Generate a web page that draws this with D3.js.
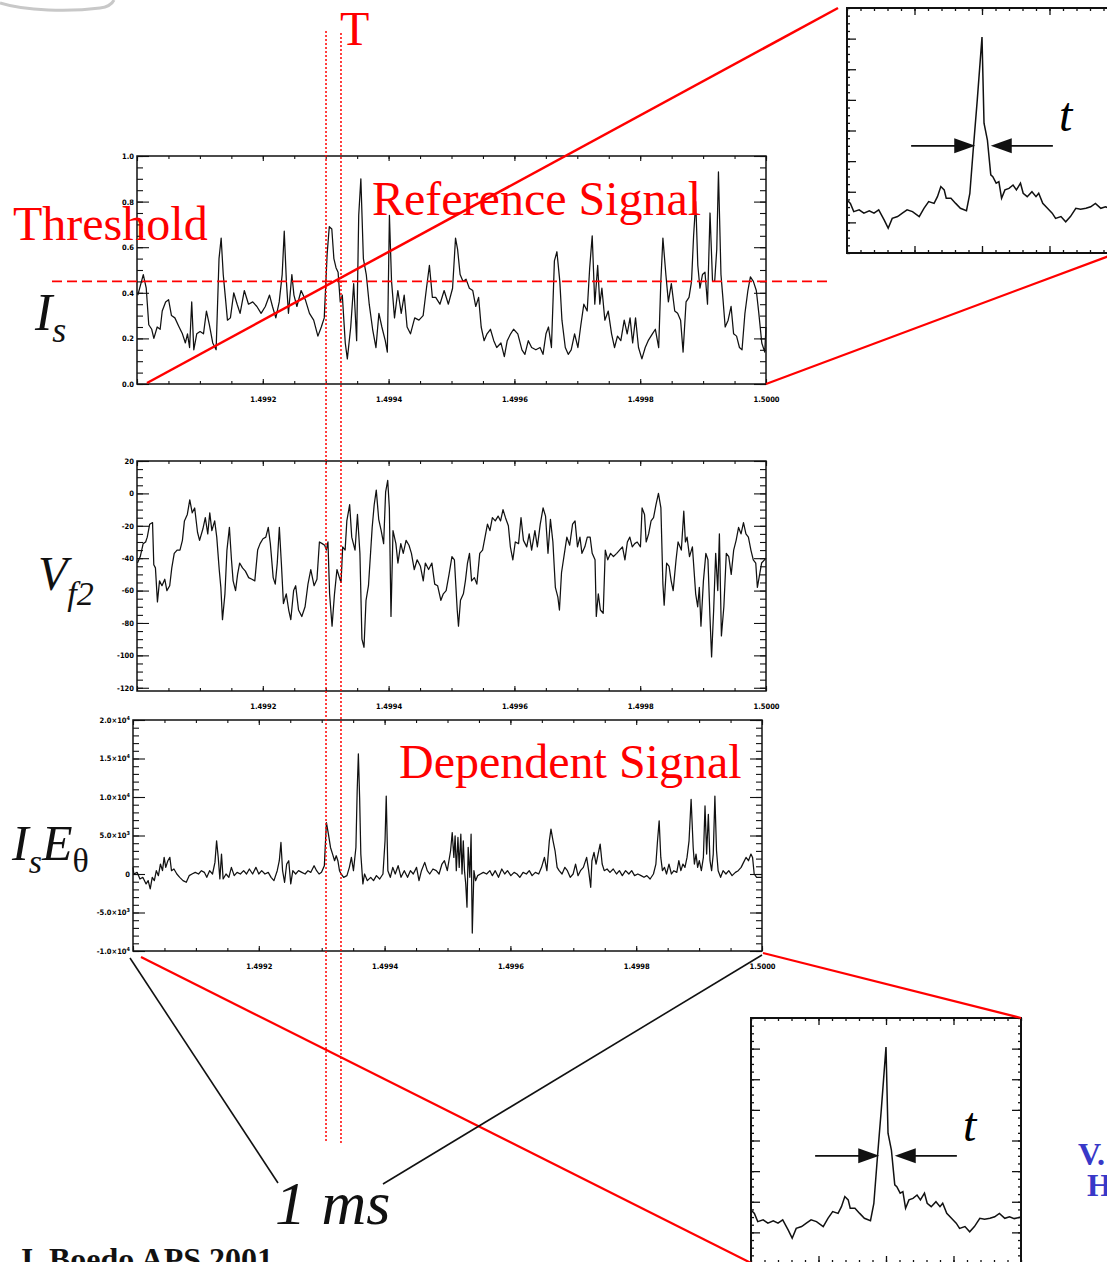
<!DOCTYPE html>
<html>
<head>
<meta charset="utf-8">
<script src="https://cdn.jsdelivr.net/npm/d3@7"></script>
<style>
body { margin: 0; background: #fff; }
svg { display: block; }
</style>
</head>
<body>
<script>

// time in microseconds after t0, value
var t0 = 1.4990;

var isSignal = [
 [1.3,.39],[10,.48],[14.7,.42],[18.7,.26],[23.4,.24],[26.8,.20],[32.1,.25],[36.8,.24],[40.1,.32],[45.5,.36],
 [50.2,.37],[54.8,.30],[60.2,.29],[66.9,.25],[72.2,.22],[76.9,.18],[80.3,.22],[83.6,.16],[87,.36],[90.3,.15],
 [95,.22],[100.3,.23],[105.7,.22],[110.4,.32],[115,.26],[120.4,.18],[125.8,.15],[130.4,.55],[133.8,.64],[137.1,.48],
 [140.5,.38],[143.8,.28],[148.5,.29],[153.8,.40],[159.2,.35],[163.9,.31],[170.6,.41],[177.3,.35],[184,.36],[190.6,.34],
 [197.3,.31],[204,.34],[210.7,.39],[215.4,.34],[220.7,.29],[226.1,.36],[230.8,.48],[234.1,.67],[237.5,.45],[240.8,.31],
 [246.2,.48],[249.5,.39],[254.2,.34],[260.9,.41],[267.6,.37],[274.2,.31],[280.9,.28],[287.6,.21],[293,.25],[297.7,.29],
 [302.3,.57],[305.7,.69],[309.7,.68],[313,.55],[316.4,.51],[319.7,.49],[323.1,.36],[326.4,.39],[331.1,.18],[334.4,.11],
 [339.8,.25],[344.5,.44],[349.2,.19],[352.5,.74],[355.9,.90],[359.9,.55],[364.5,.48],[369.2,.35],[374.6,.24],[379.9,.16],
 [384.6,.31],[389.3,.25],[394.7,.19],[398,.14],[401.3,.74],[404.7,.45],[409.4,.29],[414.7,.41],[420.1,.31],[424.8,.39],
 [429.4,.25],[434.8,.22],[441.5,.29],[448.2,.28],[454.9,.30],[460.2,.42],[464.9,.52],[469.6,.38],[474.9,.38],[481.6,.35],
 [488.3,.41],[495,.35],[501.7,.42],[506.4,.64],[509.7,.59],[513.7,.48],[518.4,.45],[523.1,.46],[528.4,.42],[533.8,.41],
 [538.5,.34],[543.1,.38],[547.2,.25],[551.8,.19],[556.5,.22],[561.9,.24],[567.2,.19],[571.9,.16],[578.6,.18],[584,.12],
 [588.6,.19],[594,.22],[598.7,.24],[605.4,.22],[612,.15],[616.7,.13],[622.1,.19],[627.4,.16],[634.1,.15],[640.8,.16],
 [645.5,.13],[650.2,.22],[654.2,.25],[658.9,.16],[663.6,.54],[667.6,.58],[672.2,.45],[675.6,.28],[680.9,.16],[685.6,.13],
 [690.3,.15],[695.7,.22],[701,.16],[705.7,.26],[710.4,.35],[715.7,.32],[719.7,.51],[723.7,.65],[727.8,.35],[732.4,.52],
 [735.8,.35],[739.1,.42],[743.8,.28],[749.2,.32],[754.5,.22],[759.2,.16],[763.9,.21],[769.2,.19],[774.6,.28],[779.3,.22],
 [783.9,.29],[788,.18],[792.6,.29],[797.3,.16],[802.7,.11],[808,.16],[812.7,.19],[819.4,.22],[824.1,.24],[829.4,.16],
 [832.8,.45],[836.1,.64],[840.8,.48],[844.8,.36],[849.5,.44],[854.9,.32],[859.5,.31],[864.2,.28],[868.2,.14],[872.9,.36],
 [877.6,.38],[881.6,.45],[884.9,.65],[888.3,.80],[891.6,.52],[895,.42],[899,.48],[903,.49],[907,.35],[911,.75],
 [915,.45],[918.4,.45],[921.7,.59],[924.4,.93],[928.4,.48],[931.1,.39],[935.1,.25],[939.8,.28],[944.5,.34],[948.5,.22],
 [953.2,.21],[957.8,.16],[961.9,.15],[966.5,.31],[971.2,.41],[975.2,.47],[979.9,.45],[984.6,.41],[988.6,.31],[993.3,.18],
 [998,.14],[1000,.25]
];

var vfSignal = [
 [0.7,-43],[5.2,-39],[9.8,-31],[13.7,-30],[16.3,-27],[20.2,-19],[24.7,-18],[26.7,-44],[29.3,-46],[32.5,-67],
 [35.8,-54],[39.7,-57],[44.2,-53],[47.5,-60],[52,-57],[55.3,-46],[59.2,-37],[63.7,-35],[68.3,-35],[72.2,-29],
 [75.4,-17],[80,-13],[83.9,-4],[87.8,-12],[91.7,-9],[96.2,-24],[99.5,-29],[104.7,-22],[108.6,-15],[112.5,-25],
 [115.7,-12],[119,-23],[123.5,-17],[126.8,-27],[130.7,-47],[133.3,-58],[135.9,-78],[139.8,-62],[143,-35],[146.9,-21],
 [150.2,-41],[152.8,-54],[156.7,-60],[159.9,-50],[163.2,-43],[167.7,-46],[172.3,-48],[177.5,-52],[182.7,-53],[187.3,-54],
 [191.8,-35],[195.7,-31],[200.3,-28],[204.8,-27],[208.7,-21],[212,-31],[216.5,-52],[219.8,-56],[223,-43],[226.3,-21],
 [229.5,-43],[232.8,-68],[237.3,-62],[241.2,-72],[244.5,-78],[249,-60],[252.3,-57],[256.8,-72],[262,-76],[267.2,-70],
 [271.8,-56],[276.3,-47],[281.5,-57],[286.1,-53],[290,-30],[294.5,-31],[298.4,-32],[301,-35],[303.6,-30],[306.2,-62],
 [310.1,-82],[314,-62],[317.9,-47],[321.8,-52],[324.4,-55],[327,-33],[330.9,-35],[333.6,-17],[338.1,-7],[341.4,-27],
 [346.6,-35],[350.5,-13],[354.4,-37],[357.6,-90],[360.9,-95],[364.1,-66],[368,-57],[371.3,-37],[373.9,-21],[377.1,-7],
 [380.4,2],[384.3,-16],[388.2,-23],[392.1,-31],[395.3,1],[398.6,8],[401.2,-9],[403.8,-76],[407,-23],[411.6,-31],
 [414.8,-43],[419.4,-31],[423.3,-37],[427.8,-29],[432.4,-32],[436.3,-37],[440.8,-47],[445.4,-41],[450.6,-45],[455.1,-54],
 [458.4,-43],[463.6,-47],[468.8,-43],[473.3,-56],[477.9,-57],[483.1,-66],[487,-62],[491.5,-60],[496.1,-50],[500.7,-39],
 [504.6,-41],[509.1,-72],[511.1,-82],[514.3,-66],[518.9,-62],[522.1,-54],[525.4,-43],[528.6,-37],[531.9,-54],[536.4,-52],
 [540.3,-56],[544.9,-37],[549.4,-35],[553.3,-27],[557.2,-19],[561.1,-23],[565,-15],[569.6,-17],[574.1,-14],[578,-17],
 [581.9,-10],[585.8,-15],[590.4,-20],[593.6,-33],[597.5,-41],[601.4,-30],[606.6,-31],[610.5,-15],[614.4,-29],[619.6,-33],
 [623.5,-25],[627.4,-35],[632.6,-23],[636.5,-33],[641.1,-19],[645.6,-9],[649.5,-14],[653.4,-37],[657.3,-16],[661.2,-30],
 [665.1,-58],[669.1,-64],[671.6,-72],[674.9,-49],[679.5,-37],[683.4,-27],[687.9,-32],[692.5,-19],[696.4,-17],[700.3,-33],
 [704.2,-27],[707.4,-37],[712,-33],[715.9,-27],[720.4,-27],[723.7,-37],[728.2,-41],[730.2,-76],[733.4,-62],[736.7,-72],
 [741.2,-74],[744.5,-35],[748.4,-41],[752.9,-37],[757.5,-39],[762.7,-37],[767.2,-35],[771.8,-33],[775.7,-41],[779.6,-30],
 [783.5,-27],[787.4,-33],[791.3,-31],[795.2,-30],[800.4,-33],[803,-9],[806.9,-13],[809.5,-30],[813.4,-25],[817.3,-17],
 [821.2,-15],[825.1,-7],[829,0],[832.9,-9],[836.1,-56],[838.1,-69],[842,-43],[845.9,-45],[849.2,-54],[852.4,-60],
 [857,-41],[860.2,-30],[865.4,-35],[869.3,-11],[871.9,-30],[874.5,-27],[878.4,-39],[883,-33],[888.2,-62],[891.4,-70],
 [894,-58],[896.6,-82],[900.5,-54],[904.4,-37],[907.7,-41],[910.9,-76],[913.5,-101],[916.8,-72],[920,-37],[923.3,-60],
 [925.9,-25],[929.1,-88],[933,-70],[936.9,-37],[940.8,-39],[944.7,-50],[948.6,-35],[952.5,-29],[956.4,-21],[960.3,-25],
 [964.2,-18],[968.1,-25],[972,-27],[976,-35],[979.8,-41],[983.7,-43],[986.3,-58],[993,-43],[1000,-40]
];

var ieSignal = [
 [0,862],[1.3,0],[6.5,215],[11.1,-647],[15.6,-431],[20.8,-1293],[24.1,-862],[27.4,-1940],[30.6,-431],[33.9,-862],
 [37.1,431],[40.4,-215],[43.6,1293],[46.9,431],[49.5,2155],[52.1,862],[55.4,1724],[58.6,2155],[61.2,431],[65.1,647],
 [69.7,0],[74.3,-431],[79.5,-862],[84.7,-1078],[89.3,-215],[93.8,0],[99,215],[104.2,0],[108.8,431],[113.4,215],
 [117.3,-431],[121.8,431],[126.4,0],[130.3,1509],[132.9,4310],[135.5,2155],[138.1,-647],[140.7,2586],[143.3,-647],[147.9,0],
 [152.4,-431],[156.4,862],[160.9,-215],[165.5,215],[170.7,0],[175.9,431],[180.5,0],[185,647],[190.2,0],[195.4,862],
 [200,0],[204.6,431],[209.8,0],[215,215],[219.5,-431],[224.1,-862],[229.3,431],[232.6,1724],[235.2,4095],[237.8,431],
 [241,-1078],[244.3,1293],[247.6,1724],[250.8,-1293],[254.1,431],[258.6,0],[263.2,431],[268.4,215],[273.6,0],[278.2,431],
 [282.7,215],[287.9,1078],[291.9,431],[295.8,0],[299.7,215],[304.2,1078],[307.5,6680],[310.7,5172],[314,3448],[317.3,2586],
 [320.5,1724],[323.1,2370],[325.7,1724],[328.3,431],[330.9,0],[334.9,-431],[340.1,-215],[344,862],[347.2,2155],[350.5,431],
 [354.4,3448],[356.4,10775],[358.3,15600],[360.3,9913],[362.2,2586],[365.5,-1293],[368.1,0],[372.6,-862],[377.9,-431],[382.4,-862],
 [387,-215],[392.2,-647],[397.4,0],[400.7,4310],[402.6,10128],[405.2,431],[409.1,-431],[413,862],[416.9,0],[421.5,1078],
 [426.1,-431],[431.3,431],[436.5,-431],[441,431],[445.6,0],[450.8,862],[454.7,-862],[458.6,431],[463.8,1509],[467.8,431],
 [471.7,0],[476.9,647],[482.1,431],[486.6,0],[491.2,1293],[495.1,1724],[499.7,431],[504.9,3017],[507.5,5387],[510.1,2155],
 [512.1,4956],[514,431],[516.6,4741],[518.6,862],[521.2,5172],[523.1,0],[525.1,4310],[527,431],[529,-1293],[531,-4310],
 [532.9,3448],[535.5,-431],[537.5,5172],[539.4,-7672],[542,431],[544.6,-862],[547.9,-215],[552.4,0],[557,215],[562.2,0],
 [567.4,431],[571.3,-215],[575.9,431],[581.1,-431],[586.3,647],[590.9,0],[595.4,431],[600.7,-215],[605.9,215],[610.4,0],
 [615,-431],[620.2,215],[625.4,0],[630,431],[634.5,-215],[639.7,215],[645,0],[649.5,862],[654.1,2155],[658,431],
 [661.9,4310],[664.5,5819],[667.8,4310],[671,3017],[674.3,862],[677.5,431],[682.1,0],[686.6,862],[690.6,431],[695.1,-431],
 [699.7,0],[703.6,1293],[707.5,-215],[711.4,431],[716,862],[721.2,2155],[724.4,431],[727.7,-1724],[729.6,1724],[732.9,2802],
 [736.2,1293],[739.4,2586],[742.7,3879],[745.9,1293],[749.2,431],[753.7,647],[758.3,215],[763.5,647],[768.7,0],[773.3,431],
 [777.9,-215],[783.1,431],[788.3,0],[792.8,431],[797.4,-215],[802.6,0],[807.8,-215],[812.4,-431],[816.9,-215],[822.1,-647],
 [827.4,0],[831.3,1293],[833.9,4310],[836.5,6896],[839.1,2155],[841.7,431],[845,862],[848.2,0],[852.1,1293],[856,0],
 [859.9,431],[864.5,215],[867.8,1724],[871,431],[874.3,1293],[877.5,862],[880.8,2155],[884,4310],[887.3,9698],[890.6,3448],
 [892.5,1293],[895.1,2586],[897.7,862],[900.3,1724],[903.6,431],[906.8,2155],[909.4,8836],[912,2586],[914.7,7758],[917.3,1724],
 [919.9,431],[922.5,2586],[925.1,10128],[927.7,3017],[930.3,431],[934.2,-431],[938.1,431],[942.7,0],[947.2,431],[952.4,-215],
 [957.7,215],[962.2,431],[966.8,862],[970.7,1509],[974.6,2155],[978.5,1724],[982.4,2586],[985,2155],[987.6,0],[991.5,-431],
 [1000,-431]
];

// conditional average (lag, amplitude) shown in both zoom boxes
var condAverage = [
 [-2.0,1.73],[-1.95,1.62],[-1.90,1.35],[-1.82,1.41],[-1.75,1.30],[-1.67,1.38],[-1.60,1.30],[-1.53,1.41],[-1.45,1.08],[-1.39,0.81],
 [-1.33,1.13],[-1.25,1.19],[-1.18,1.30],[-1.11,1.41],[-1.03,1.35],[-0.93,1.19],[-0.86,1.46],[-0.79,1.68],[-0.71,1.62],[-0.66,1.84],
 [-0.61,2.17],[-0.56,2.06],[-0.53,1.79],[-0.46,1.79],[-0.39,1.62],[-0.32,1.46],[-0.23,1.38],[-0.18,1.95],[-0.13,3.37],[-0.07,5.0],
 [0.0,7.05],[0.03,4.24],[0.08,3.69],[0.13,2.55],[0.16,2.49],[0.21,2.28],[0.25,2.33],[0.29,1.79],[0.34,2.06],[0.40,2.11],
 [0.46,2.22],[0.51,2.06],[0.57,2.28],[0.61,1.95],[0.67,1.84],[0.74,2.00],[0.80,1.84],[0.84,1.95],[0.90,1.62],[0.97,1.46],
 [1.04,1.30],[1.09,1.13],[1.17,1.19],[1.24,1.02],[1.31,1.19],[1.39,1.46],[1.46,1.43],[1.54,1.46],[1.61,1.51],[1.68,1.62],
 [1.76,1.46],[1.83,1.51],[1.90,1.45],[2.0,1.5]
];

var xTicks = [1.4990, 1.4992, 1.4994, 1.4996, 1.4998, 1.5000];
var xTickLabels = ["", "1.4992", "1.4994", "1.4996", "1.4998", "1.5000"];
var isTicks = [0, 0.2, 0.4, 0.6, 0.8, 1.0];
var isTickLabels = ["0.0", "0.2", "0.4", "0.6", "0.8", "1.0"];
var vfTicks = [20, 0, -20, -40, -60, -80, -100, -120];
var ieTicks = [20000, 15000, 10000, 5000, 0, -5000, -10000];
var ieTickLabels = [["2.0\u00d710","4"], ["1.5\u00d710","4"], ["1.0\u00d710","4"], ["5.0\u00d710","3"], ["0",""], ["-5.0\u00d710","3"], ["-1.0\u00d710","4"]];
var threshold = 0.45;
var windowTimes = [300.5, 324.3];   // the T window, us after t0
var arrowLag = [[-1.05, -0.10], [1.05, 0.13]];
var arrowLevel = 3.5;

var RED = "#ff0000";
var SERIF = "'Liberation Serif', 'Times New Roman', serif";
var NARROW = "'Liberation Sans Narrow', 'DejaVu Sans Condensed', sans-serif";

var svg = d3.select("body").append("svg")
    .attr("width", 1107).attr("height", 1262);
svg.append("rect").attr("width", 1107).attr("height", 1262).attr("fill", "#fff");

// leftover scrap of a drawing in the corner
svg.append("path")
    .attr("d", "M0,3 C25,11 70,12 100,8 C108,7 112,4 114,0")
    .attr("fill", "none").attr("stroke", "#c8c8c8").attr("stroke-width", 3);

function fmtTime(us) { return t0 + us * 1e-6; }

Panel = function(cfg) {
    var x = d3.scaleLinear().domain([1.4990, 1.5000]).range([cfg.left, cfg.right]);
    var y = d3.scaleLinear().domain(cfg.yDomain).range([cfg.bottom, cfg.top]);
    var g = svg.append("g");
    var xMinor = d3.range(0, 21).map(function(i) { return 1.4990 + i * 0.00005; });
    var yMinor = d3.range(cfg.yDomain[0], cfg.yDomain[1] + 1e-9, cfg.yMinorStep)
                   .map(function(v) { return Math.round(v / cfg.yMinorStep) * cfg.yMinorStep; })
                   .filter(function(v) { return v >= cfg.yDomain[0] && v <= cfg.yDomain[1]; });

    function ax(axis, tx, ty) {
        var a = g.append("g").attr("transform", "translate(" + tx + "," + ty + ")").call(axis);
        a.select(".domain").remove();
        a.selectAll("line").attr("stroke", "#111").attr("stroke-width", 1.1);
        a.attr("font-family", NARROW).attr("font-size", 7.5).attr("font-weight", "bold");
        return a;
    }
    var noLab = function() { return ""; };
    ax(d3.axisBottom(x).tickValues(xMinor).tickSize(-3).tickFormat(noLab), 0, cfg.bottom);
    ax(d3.axisTop(x).tickValues(xMinor).tickSize(-3).tickFormat(noLab), 0, cfg.top);
    ax(d3.axisTop(x).tickValues(xTicks).tickSize(-5).tickFormat(noLab), 0, cfg.top);
    ax(d3.axisBottom(x).tickValues(xTicks).tickSize(-5).tickPadding(13)
        .tickFormat(function(d, i) { return xTickLabels[i]; }), 0, cfg.bottom);

    ax(d3.axisLeft(y).tickValues(yMinor).tickSize(-6).tickFormat(noLab), cfg.left, 0);
    ax(d3.axisRight(y).tickValues(yMinor).tickSize(-6).tickFormat(noLab), cfg.right, 0);
    ax(d3.axisRight(y).tickValues(cfg.yTicks).tickSize(-12).tickFormat(noLab), cfg.right, 0);
    var yl = ax(d3.axisLeft(y).tickValues(cfg.yTicks).tickSize(-12).tickPadding(3)
        .tickFormat(function(d, i) { return cfg.yLabels ? cfg.yLabels[i] : d; }), cfg.left, 0);
    if (cfg.sciLabels) {
        yl.selectAll(".tick text").each(function(d, i) {
            var t = d3.select(this).text(null);
            t.append("tspan").text(cfg.sciLabels[i][0]);
            t.append("tspan").attr("dy", -3).attr("font-size", 5.5).text(cfg.sciLabels[i][1]);
        });
    }

    g.append("rect")
        .attr("x", cfg.left).attr("y", cfg.top)
        .attr("width", cfg.right - cfg.left).attr("height", cfg.bottom - cfg.top)
        .attr("fill", "none").attr("stroke", "#111").attr("stroke-width", 1.5);

    var line = d3.line()
        .x(function(d) { return x(fmtTime(d[0])); })
        .y(function(d) { return y(d[1]); });
    g.append("path").datum(cfg.data).attr("d", line)
        .attr("fill", "none").attr("stroke", "#111").attr("stroke-width", 1.25)
        .attr("stroke-linejoin", "round");

    return { x: x, y: y, g: g, cfg: cfg };
};

Inset = function(cfg) {
    var x = d3.scaleLinear().domain([-2, 2]).range([cfg.left, cfg.left + 270]);
    var y = d3.scaleLinear().domain([0, 8]).range([cfg.top + 245, cfg.top]);
    var g = svg.append("g");
    var minorX = d3.range(-10, 11).map(function(i) { return i * 0.2; });
    var minorY = d3.range(0, 33).map(function(i) { return i * 0.25; });
    var noLab = function() { return ""; };
    function ax(axis, tx, ty) {
        var a = g.append("g").attr("transform", "translate(" + tx + "," + ty + ")").call(axis);
        a.select(".domain").remove();
        a.selectAll("line").attr("stroke", "#111").attr("stroke-width", 1.3);
        return a;
    }
    ax(d3.axisTop(x).tickValues(minorX).tickSize(-3).tickFormat(noLab), 0, y(8));
    ax(d3.axisTop(x).tickValues([-1, 0, 1]).tickSize(-7).tickFormat(noLab), 0, y(8));
    ax(d3.axisBottom(x).tickValues(minorX).tickSize(-3).tickFormat(noLab), 0, y(0));
    ax(d3.axisBottom(x).tickValues([-1, 0, 1]).tickSize(-7).tickFormat(noLab), 0, y(0));
    ax(d3.axisLeft(y).tickValues(minorY).tickSize(-3).tickFormat(noLab), x(-2), 0);
    ax(d3.axisLeft(y).tickValues(d3.range(1, 8)).tickSize(-9).tickFormat(noLab), x(-2), 0);
    ax(d3.axisRight(y).tickValues(minorY).tickSize(-3).tickFormat(noLab), x(2), 0);
    ax(d3.axisRight(y).tickValues(d3.range(1, 8)).tickSize(-9).tickFormat(noLab), x(2), 0);

    g.append("rect").attr("x", x(-2)).attr("y", y(8))
        .attr("width", x(2) - x(-2)).attr("height", y(0) - y(8))
        .attr("fill", "none").attr("stroke", "#111").attr("stroke-width", 2);

    g.append("path").datum(condAverage)
        .attr("d", d3.line().x(function(d) { return x(d[0]); }).y(function(d) { return y(d[1]); }))
        .attr("fill", "none").attr("stroke", "#111").attr("stroke-width", 1.5);

    // width arrows
    arrowLag.forEach(function(a) {
        var x1 = x(a[0]), x2 = x(a[1]), yy = y(arrowLevel);
        var dir = x2 > x1 ? 1 : -1;
        g.append("line").attr("x1", x1).attr("y1", yy).attr("x2", x2 - dir * 18).attr("y2", yy)
            .attr("stroke", "#111").attr("stroke-width", 1.8);
        g.append("path")
            .attr("d", "M" + x2 + "," + yy + " L" + (x2 - dir * 21) + "," + (yy - 7.5) +
                       " L" + (x2 - dir * 21) + "," + (yy + 7.5) + " Z")
            .attr("fill", "#111");
    });
    g.append("text").attr("x", x(1.14)).attr("y", y(4.0))
        .attr("font-family", SERIF).attr("font-style", "italic").attr("font-size", 48)
        .text("t");
    return { x: x, y: y };
};

var p1 = Panel({ left: 137, right: 766, top: 156, bottom: 384, yDomain: [0, 1],
    yTicks: isTicks, yLabels: isTickLabels, yMinorStep: 0.05, data: isSignal });
var p2 = Panel({ left: 137, right: 766, top: 461, bottom: 691, yDomain: [-122, 20],
    yTicks: vfTicks, yMinorStep: 5, data: vfSignal });
var p3 = Panel({ left: 133, right: 762, top: 720, bottom: 951, yDomain: [-10000, 20000],
    yTicks: ieTicks, sciLabels: ieTickLabels, yMinorStep: 1000, data: ieSignal });

var in1 = Inset({ left: 847, top: 8 });
var in2 = Inset({ left: 751, top: 1018 });

var ann = svg.append("g");

// threshold
ann.append("line")
    .attr("x1", 52).attr("x2", 832)
    .attr("y1", p1.y(threshold)).attr("y2", p1.y(threshold))
    .attr("stroke", RED).attr("stroke-width", 1.6).attr("stroke-dasharray", "10,5");

// T window
windowTimes.forEach(function(us, i) {
    ann.append("line")
        .attr("x1", p1.x(fmtTime(us))).attr("x2", p1.x(fmtTime(us)))
        .attr("y1", 31 + i * 2).attr("y2", 1143)
        .attr("stroke", RED).attr("stroke-width", 1.5).attr("stroke-dasharray", "2,2");
});

// zoom connectors
function seg(x1, y1, x2, y2, col, w) {
    ann.append("line").attr("x1", x1).attr("y1", y1).attr("x2", x2).attr("y2", y2)
        .attr("stroke", col).attr("stroke-width", w);
}
seg(p1.cfg.left + 10, p1.cfg.bottom - 1, in1.x(-2) - 9, in1.y(8), RED, 2.5);
seg(p1.cfg.right, p1.cfg.bottom, in1.x(2), in1.y(0), RED, 2.2);
seg(p3.cfg.left + 8, p3.cfg.bottom + 6, in2.x(-2), in2.y(0), RED, 2.2);
seg(p3.cfg.right + 1, p3.cfg.bottom + 2, in2.x(2), in2.y(8), RED, 2.2);
seg(p3.cfg.left - 3, p3.cfg.bottom + 7, 278, 1183, "#111", 1.6);
seg(p3.cfg.right, p3.cfg.bottom + 4, 383, 1184, "#111", 1.6);

function label(x, y, txt, size, col, extra) {
    var t = ann.append("text").attr("x", x).attr("y", y)
        .attr("font-family", SERIF).attr("font-size", size).attr("fill", col).text(txt);
    if (extra) extra(t);
    return t;
}
label(340, 45, "T", 48, RED);
label(13, 240, "Threshold", 48, RED);
label(372, 215, "Reference Signal", 48, RED);
label(399, 778, "Dependent Signal", 48, RED);
label(275, 1224, "1 ms", 62, "#111", function(t) { t.attr("font-style", "italic"); });
label(17, 1270, "J. Boedo APS 2001", 32, "#111", function(t) { t.attr("font-weight", "bold"); });
label(1078, 1165, "V.", 32, "#3838c8", function(t) { t.attr("font-weight", "bold"); });
label(1087, 1196, "H", 32, "#3838c8", function(t) { t.attr("font-weight", "bold"); });

// signal names
var lb1 = label(35, 330, "I", 52, "#111", function(t) { t.attr("font-style", "italic"); });
lb1.append("tspan").attr("font-size", 36).attr("dy", 12).text("s");

var lb2 = label(38, 590, "V", 48, "#111", function(t) { t.attr("font-style", "italic"); });
lb2.append("tspan").attr("font-size", 34).attr("dy", 15).text("f2");

var lb3 = label(12, 860, "I", 50, "#111", function(t) { t.attr("font-style", "italic"); });
lb3.append("tspan").attr("font-size", 34).attr("dy", 13).text("s");
lb3.append("tspan").attr("font-size", 50).attr("dy", -13).text("E");
lb3.append("tspan").attr("font-size", 34).attr("dy", 12).attr("font-style", "normal").text("\u03b8");

</script>
</body>
</html>
